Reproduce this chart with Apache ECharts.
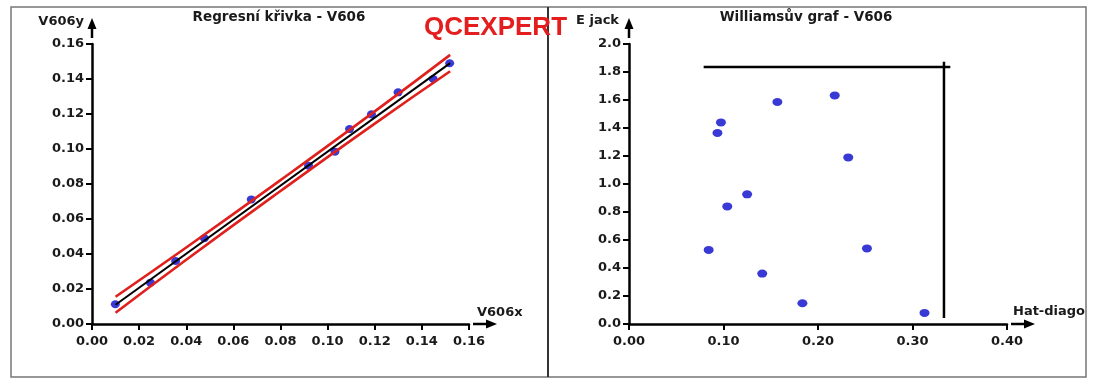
<!DOCTYPE html>
<html><head><meta charset="utf-8">
<script src="https://cdn.jsdelivr.net/npm/echarts@6/dist/echarts.min.js"></script>
<style>html,body{margin:0;padding:0;background:#fff}#c{width:1093px;height:379px}</style>
</head><body><div id="c"></div>
<script>
// Regression chart data
var regX = [0.0099,0.0248,0.0355,0.0477,0.0676,0.0919,0.1031,0.1093,0.1186,0.1299,0.1448,0.1518];
var regY = [0.0113,0.0236,0.0360,0.0490,0.0712,0.0905,0.0985,0.1114,0.1198,0.1324,0.1400,0.1490];
var fitX = [0.010,0.152];
var fitY = [0.0110,0.1491];
var bandX = [0.010,0.040,0.080,0.120,0.152];
var bandUpper = [0.0156,0.0437,0.0822,0.1215,0.1538];
var bandLower = [0.0064,0.0367,0.0760,0.1145,0.1444];
var regTicks = [0,0.02,0.04,0.06,0.08,0.10,0.12,0.14,0.16];
// Williams chart data
var hatX = [0.0843,0.0936,0.0973,0.104,0.125,0.141,0.157,0.1835,0.2177,0.232,0.2518,0.3127];
var eJack = [0.529,1.364,1.44,0.84,0.926,0.36,1.586,0.148,1.633,1.19,0.54,0.079];
var hLimitX = [0.079,0.340]; var hLimitY = 1.836;
var vLimitX = 0.3333; var vLimitY = [0.043,1.874];
var hatTicks = [0,0.1,0.2,0.3,0.4];
var jackTicks = [0,0.2,0.4,0.6,0.8,1.0,1.2,1.4,1.6,1.8,2.0];

var FONT = '"DejaVu Sans", sans-serif';
function pairs(xs, ys){ return xs.map(function(x,i){return [x, ys[i]];}); }
function axisCommon(ticks, digits){
  return {
    type:'value', min:ticks[0], max:ticks[ticks.length-1], interval:ticks[1]-ticks[0],
    splitLine:{show:false},
    axisLine:{show:true, onZero:false, lineStyle:{color:'#000', width:2.5}},
    axisTick:{show:true, length:6, lineStyle:{color:'#000', width:2}},
    axisLabel:{fontFamily:FONT, fontWeight:'bold', fontSize:13, color:'#1a1a1a',
      formatter:function(v){return v.toFixed(digits);}}
  };
}
var chart = echarts.init(document.getElementById('c'), null, {renderer:'canvas'});
var xa0 = axisCommon(regTicks,2); xa0.gridIndex=0; xa0.axisLabel.margin=11;
var ya0 = axisCommon(regTicks,2); ya0.gridIndex=0; ya0.axisLabel.margin=8;
var xa1 = axisCommon(hatTicks,2); xa1.gridIndex=1; xa1.axisLabel.margin=11;
var ya1 = axisCommon(jackTicks,1); ya1.gridIndex=1; ya1.axisLabel.margin=8;

var dot = {color:'#0808cc'};
chart.setOption({
  animation:false,
  grid:[
    {left:92, top:44, width:377, height:280},
    {left:629, top:44, width:378, height:280}
  ],
  xAxis:[xa0, xa1],
  yAxis:[ya0, ya1],
  series:[
    {type:'scatter', xAxisIndex:0, yAxisIndex:0, data:pairs(regX,regY), symbolSize:[9,8], itemStyle:dot, z:2},
    {type:'line', xAxisIndex:0, yAxisIndex:0, data:pairs(bandX,bandUpper), smooth:true, showSymbol:false, lineStyle:{color:'#e0201c', width:2.6}, z:3},
    {type:'line', xAxisIndex:0, yAxisIndex:0, data:pairs(bandX,bandLower), smooth:true, showSymbol:false, lineStyle:{color:'#e0201c', width:2.6}, z:3},
    {type:'line', xAxisIndex:0, yAxisIndex:0, data:pairs(fitX,fitY), showSymbol:false, lineStyle:{color:'#000', width:2}, z:4},
    {type:'scatter', xAxisIndex:1, yAxisIndex:1, data:pairs(hatX,eJack), symbolSize:[10,8], itemStyle:dot, z:3},
    {type:'line', xAxisIndex:1, yAxisIndex:1, data:[[hLimitX[0],hLimitY],[hLimitX[1],hLimitY]], showSymbol:false, lineStyle:{color:'#000', width:2.5}, z:2},
    {type:'line', xAxisIndex:1, yAxisIndex:1, data:[[vLimitX,vLimitY[0]],[vLimitX,vLimitY[1]]], showSymbol:false, lineStyle:{color:'#000', width:2.5}, z:2}
  ]
});

function arrowEls(gi, xMax, yMax){
  var o = chart.convertToPixel({gridIndex:gi}, [0,0]);
  var xe = chart.convertToPixel({gridIndex:gi}, [xMax,0]);
  var ye = chart.convertToPixel({gridIndex:gi}, [0,yMax]);
  var els = [];
  var ax0 = xe[0]+4, ax1 = xe[0]+28;
  els.push({type:'line', shape:{x1:ax0, y1:o[1], x2:ax1-6, y2:o[1]}, style:{stroke:'#000', lineWidth:2.5}});
  els.push({type:'polygon', shape:{points:[[ax1,o[1]],[ax1-11,o[1]-4.5],[ax1-11,o[1]+4.5]]}, style:{fill:'#000'}});
  var ay0 = ye[1]-6, ay1 = ye[1]-26;
  els.push({type:'line', shape:{x1:o[0], y1:ay0, x2:o[0], y2:ay1+6}, style:{stroke:'#000', lineWidth:2.5}});
  els.push({type:'polygon', shape:{points:[[o[0],ay1],[o[0]-4.5,ay1+11],[o[0]+4.5,ay1+11]]}, style:{fill:'#000'}});
  return els;
}
function txt(x,y,s,opt){
  opt = opt||{};
  return {type:'text', x:x, y:y, z:opt.z||10, style:{text:s, fill:opt.color||'#1a1a1a',
    font:(opt.weight||'bold')+' '+(opt.size||13)+'px '+(opt.family||FONT),
    textAlign:opt.align||'left', textVerticalAlign:'middle'}};
}
var g = [];
g = g.concat(arrowEls(0, 0.16, 0.16), arrowEls(1, 0.4, 2.0));
g.push(txt(279,17,'Regresní křivka - V606',{align:'center', size:13.5}));
g.push(txt(806,17,'Williamsův graf - V606',{align:'center', size:13.5}));
g.push(txt(84,22,'V606y',{align:'right'}));
g.push(txt(477,313,'V606x'));
g.push(txt(619,21,'E jack',{align:'right'}));
g.push(txt(1013,312,'Hat-diagonal'));
// mask beyond right border
g.push({type:'rect', shape:{x:1086, y:0, width:10, height:379}, style:{fill:'#fff'}, z:20});
// frame
g.push({type:'rect', shape:{x:11, y:7, width:1075, height:370}, style:{fill:'none', stroke:'#777', lineWidth:1.5}, z:21});
g.push({type:'line', shape:{x1:548, y1:7, x2:548, y2:377}, style:{stroke:'#333', lineWidth:2}, z:21});
g.push(txt(424,28,'QCEXPERT',{color:'#e41e1e', size:26, family:'"Liberation Sans", Arial, sans-serif', z:30}));
chart.setOption({graphic:{elements:g}});
</script></body></html>
